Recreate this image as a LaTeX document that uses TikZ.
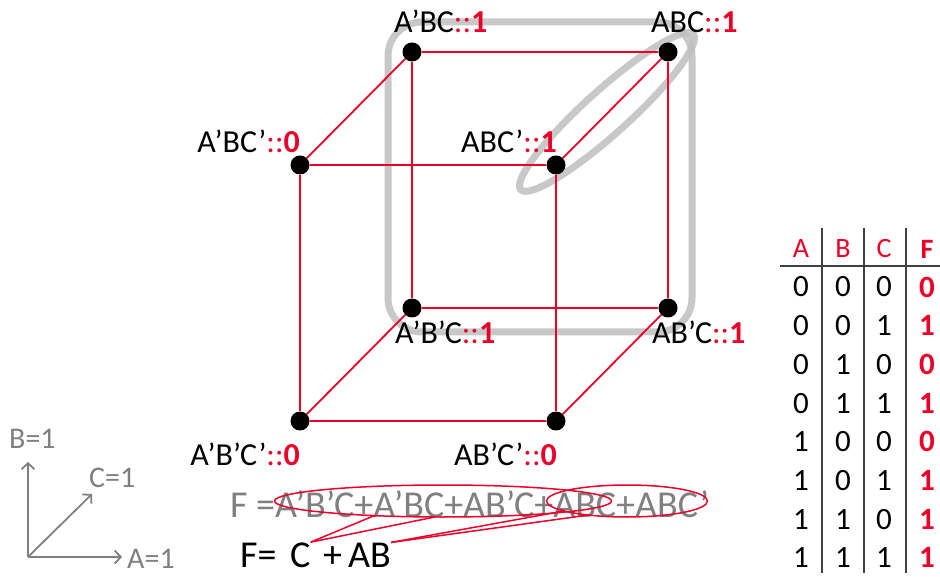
\documentclass[tikz,border=0pt]{standalone}
\usepackage{fontspec}
\setmainfont{Carlito}
\usetikzlibrary{shapes.geometric,arrows.meta,positioning}
\definecolor{cubered}{RGB}{235,0,41}
\definecolor{hlgray}{RGB}{190,190,190}
\definecolor{txtgray}{RGB}{128,128,128}
\definecolor{rulegray}{RGB}{64,64,64}
\newcommand{\fsize}[1]{\fontsize{#1}{#1}\selectfont}
\newcommand{\mterm}[2]{#1\textcolor{cubered}{::\textbf{#2}}}

\begin{document}
\begin{tikzpicture}[x=1pt,y=-1pt,
      vertex/.style={circle,fill=black,inner sep=0pt,minimum size=19pt},
      cube edge/.style={draw=cubered,line width=1.8pt},
      mlabel/.style={inner sep=0pt,font=\fsize{32}},
      highlight/.style={draw=hlgray,line width=7pt,opacity=0.85},
      group/.style={ellipse,draw=cubered,line width=1.5pt,inner sep=0pt,outer sep=0pt},
      callout/.style={draw=cubered,line width=1.5pt},
      axis/.style={draw=txtgray,line width=1.8pt,-{Straight Barb[length=6pt,width=13pt]}},
      axlabel/.style={inner sep=0pt,font=\fsize{30},text=txtgray},
      cell/.style={inner sep=0pt,font=\fsize{31}},
      head/.style={inner sep=0pt,font=\fsize{28},text=cubered},
      tabrule/.style={draw=rulegray,line width=1.6pt}]
      \useasboundingbox (0,0) rectangle (940,577);

      % groups on the cube
      \draw[highlight,rounded corners=34pt] (388,22) rectangle (692,332);
      \node[highlight,ellipse,minimum width=232pt,minimum height=44pt,rotate=42] (pair) at (607,112) {};

      % vertices
      \node[vertex] (m0) at (300,421) {};
      \node[vertex] (m4) at (556,421) {};
      \node[vertex] (m2) at (300,165) {};
      \node[vertex] (m6) at (556,165) {};
      \node[vertex] (m1) at (412,308) {};
      \node[vertex] (m5) at (668,308) {};
      \node[vertex] (m3) at (412,52) {};
      \node[vertex] (m7) at (668,52) {};

      \path[cube edge]
        (m0) edge (m4)
        (m4) edge (m6)
        (m6) edge (m2)
        (m2) edge (m0)
        (m1) edge (m5)
        (m5) edge (m7)
        (m7) edge (m3)
        (m3) edge (m1)
        (m0) edge (m1)
        (m4) edge (m5)
        (m6) edge (m7)
        (m2) edge (m3);

      \node[mlabel,anchor=base west] (l3) at (394,33) {\mterm{A’BC}{1}};
      \node[mlabel,anchor=base west] (l7) at (651,33) {\mterm{ABC}{1}};
      \node[mlabel,anchor=base east] (l2) at (300,153) {\mterm{A’BC’}{0}};
      \node[mlabel,anchor=base east] (l6) at (557,153) {\mterm{ABC’}{1}};
      \node[mlabel,anchor=base west] (l1) at (395,344) {\mterm{A’B’C}{1}};
      \node[mlabel,anchor=base west] (l5) at (652,344) {\mterm{AB’C}{1}};
      \node[mlabel,anchor=base east] (l0) at (300,465) {\mterm{A’B’C’}{0}};
      \node[mlabel,anchor=base east] (l4) at (557,465) {\mterm{AB’C’}{0}};

      % axes
      \coordinate (o) at (28,557);
      \coordinate (btip) at (28,462);
      \coordinate (ctip) at (92,494);
      \coordinate (atip) at (122,557);
      \draw[axis] (o) -- (btip);
      \draw[axis] (o) -- (ctip);
      \draw[axis] (o) -- (atip);
      \node[axlabel,anchor=base west] (lb) at (9,448) {B=1};
      \node[axlabel,anchor=base west] (lc) at (89,487) {C=1};
      \node[axlabel,anchor=base west] (la) at (127,568) {A=1};

      % sum of minterms and the reduced form
      \node[inner sep=0pt,font=\fsize{38},text=txtgray,anchor=base west] (sop) at (230,517)
        {F =A’B’C+A’BC+AB’C+ABC+ABC’};
      \node[group,minimum width=337pt,minimum height=32pt] (cgrp) at (443,501) {};
      \node[group,minimum width=161pt,minimum height=32pt] (abgrp) at (627,501) {};

      \node[inner sep=0pt,font=\fsize{38},anchor=base west] (feq) at (240,567) {F=};
      \node[inner sep=0pt,font=\fsize{38},anchor=base west] (fc) at (290,567) {C};
      \node[inner sep=0pt,font=\fsize{38},anchor=base west] (fplus) at (323,567) {+};
      \node[inner sep=0pt,font=\fsize{38},anchor=base west] (fab) at (348,567) {AB};

      \draw[callout] (fc.north east) -- (cgrp.192);
      \draw[callout] (fc.north east) -- (cgrp.243);
      \draw[callout] (fab.north east) -- (abgrp.189);
      \draw[callout] (fab.north east) -- (abgrp.200);

      % truth table
      \node[head] (ha) at (801,249) {A};
      \node[head] (hb) at (843,249) {B};
      \node[head] (hc) at (884,249) {C};
      \node[head] (hf) at (927,249) {\textbf{F}};
      \foreach \a/\b/\c/\f [count=\i from 0] in
        {0/0/0/0,0/0/1/1,0/1/0/0,0/1/1/1,1/0/0/0,1/0/1/1,1/1/0/1,1/1/1/1} {
        \node[cell] (ta\i) at (801,{287+38.7*\i}) {\a};
        \node[cell] (tb\i) at (843,{287+38.7*\i}) {\b};
        \node[cell] (tc\i) at (884,{287+38.7*\i}) {\c};
        \node[cell,text=cubered] (tf\i) at (927,{287+38.7*\i}) {\textbf{\f}};
      }
      \draw[tabrule] (780,266) -- (940,266);
      \foreach \x in {822,864,906}
        \draw[tabrule] (\x,228) -- (\x,573);
\end{tikzpicture}
\end{document}
